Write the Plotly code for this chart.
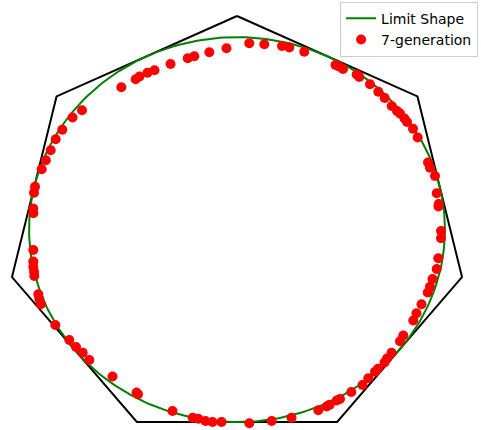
import numpy as np
import plotly.graph_objects as go

# Regular heptagon (circumradius 1, vertex at top) and its limit shape
N_SIDES = 7
LIMIT_RADIUS = np.cos(np.pi / N_SIDES)

# 7-generation points
gen_x = [-0.5013, -0.4389, -0.4224, -0.3878, -0.3575, -0.2881, -0.2136, -0.1850, -0.1200, -0.0455,
         0.0533, 0.1183, 0.1950, 0.2266, 0.2916, 0.4268, 0.4419, 0.4593, 0.5186, 0.5299,
         0.5763, 0.6122, 0.6399, 0.6703, 0.6932, 0.7062, 0.7257, 0.7366, 0.7626, 0.7829,
         0.8276, 0.8362, 0.8579, 0.8653, 0.8739, 0.8731, 0.8839, 0.8839, 0.8722, 0.8653,
         0.8471, 0.8362, 0.8263, 0.7994, 0.7777, 0.7639, 0.7205, 0.7062, 0.6694, 0.6499,
         0.6391, 0.6109, 0.5979, 0.5689, 0.5438, 0.4952, 0.4463, 0.4320, 0.4016, 0.3886,
         0.3523, 0.2361, 0.1503, 0.0533, -0.0672, -0.1062, -0.1365, -0.1677, -0.1919, -0.2795,
         -0.4289, -0.4354, -0.5394, -0.6399, -0.6685, -0.6976, -0.7266, -0.7873, -0.8501, -0.8566,
         -0.8609, -0.8782, -0.8796, -0.8826, -0.8826, -0.8826, -0.8826, -0.8826, -0.8796, -0.8752,
         -0.8462, -0.8284, -0.8072, -0.7855, -0.7569, -0.7127, -0.6716]
gen_y = [0.6662, 0.7041, 0.7167, 0.7345, 0.7462, 0.7753, 0.8020, 0.8118, 0.8300, 0.8488,
         0.8722, 0.8675, 0.8595, 0.8525, 0.8329, 0.7706, 0.7636, 0.7519, 0.7261, 0.7144,
         0.6802, 0.6456, 0.6161, 0.5786, 0.5552, 0.5435, 0.5201, 0.5037, 0.4723, 0.4311,
         0.3141, 0.2893, 0.2509, 0.1699, 0.1198, 0.1081, -0.0066, -0.0408, -0.1345, -0.1846,
         -0.2314, -0.2674, -0.2946, -0.3494, -0.3920, -0.4257, -0.4959, -0.5231, -0.5765, -0.6036,
         -0.6223, -0.6514, -0.6654, -0.6963, -0.7277, -0.7605, -0.7932, -0.8003, -0.8199, -0.8283,
         -0.8461, -0.8808, -0.8963, -0.9070, -0.9010, -0.9010, -0.8963, -0.8855, -0.8808, -0.8494,
         -0.7712, -0.7628, -0.6879, -0.6106, -0.5765, -0.5498, -0.5170, -0.4468, -0.3498, -0.3250,
         -0.3026, -0.2173, -0.1972, -0.1738, -0.1495, -0.0956, 0.0762, 0.0987, 0.1727, 0.2008,
         0.2822, 0.3244, 0.3712, 0.4227, 0.4676, 0.5248, 0.5585]

ang = np.pi / 2 + 2 * np.pi * np.arange(N_SIDES + 1) / N_SIDES
hept_x = np.cos(ang)
hept_y = np.sin(ang)

t = np.linspace(0, 2 * np.pi, 400)
circ_x = LIMIT_RADIUS * np.cos(t)
circ_y = LIMIT_RADIUS * np.sin(t)

fig = go.Figure()
fig.add_trace(go.Scatter(x=hept_x, y=hept_y, mode="lines",
                         line=dict(color="black", width=2), showlegend=False, hoverinfo="skip"))
fig.add_trace(go.Scatter(x=circ_x, y=circ_y, mode="lines", name="Limit Shape",
                         line=dict(color="green", width=2)))
fig.add_trace(go.Scatter(x=gen_x, y=gen_y, mode="markers", name="7-generation",
                         marker=dict(color="red", size=10, line=dict(width=0))))

fig.update_layout(
    width=481, height=430,
    margin=dict(l=0, r=0, t=0, b=0),
    paper_bgcolor="white", plot_bgcolor="white",
    font=dict(family="DejaVu Sans", size=14, color="black"),
    xaxis=dict(range=[-1.0269, 1.0572], visible=False, fixedrange=True),
    yaxis=dict(range=[-0.9384, 1.0749], visible=False, fixedrange=True),
    legend=dict(x=0.994, y=0.996, xanchor="right", yanchor="top",
                bgcolor="rgba(255,255,255,0.8)", bordercolor="#cccccc", borderwidth=1,
                font=dict(family="DejaVu Sans", size=14, color="black"),
                tracegroupgap=2),
    showlegend=True,
)

fig.write_html("out.html", config={"displayModeBar": False},
               post_script="document.body.style.margin='0px';document.body.style.overflow='hidden';")
